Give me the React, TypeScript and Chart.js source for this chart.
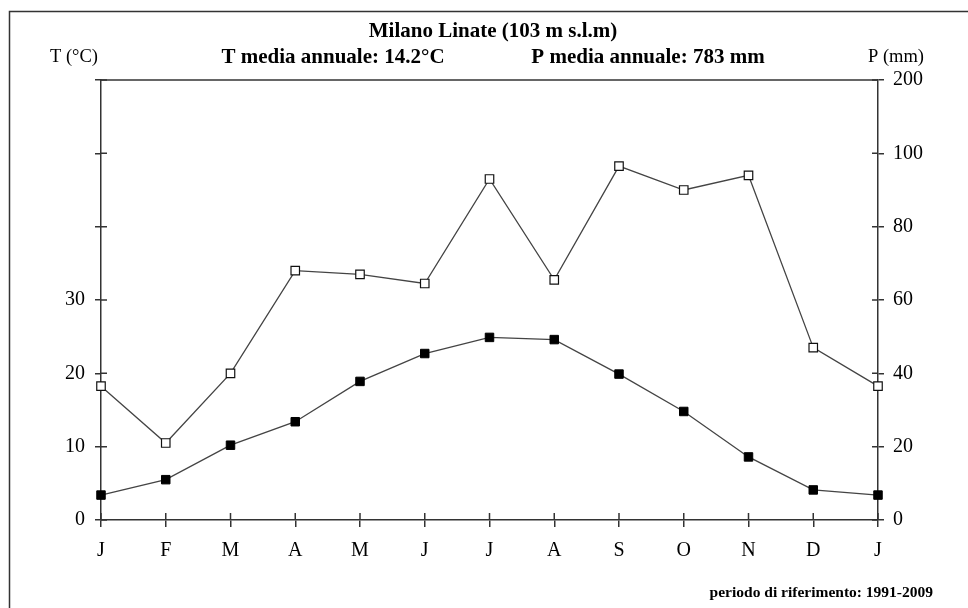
import React, { useEffect, useRef } from "react";
import { Chart, registerables } from "chart.js";

Chart.register(...registerables);

const months = ["J", "F", "M", "A", "M", "J", "J", "A", "S", "O", "N", "D", "J"];
const temperature = [3.4, 5.5, 10.2, 13.4, 18.9, 22.7, 24.9, 24.6, 19.9, 14.8, 8.6, 4.1, 3.4];
const precipitation = [36.5, 21, 40, 68, 67, 64.5, 93, 65.5, 96.5, 90, 94, 47, 36.5];
const tempLabelledTicks = [0, 10, 20, 30];
const precipTopInternal = 120;
const precipTopLabel = "200";

const title = "Milano Linate (103 m s.l.m)";
const tMean = "T media annuale: 14.2°C";
const pMean = "P media annuale: 783 mm";
const tUnit = "T (°C)";
const pUnit = "P (mm)";
const period = "periodo di riferimento: 1991-2009";

const FONT = "'Liberation Serif', 'Times New Roman', serif";
const AXIS = "#333";

const decorPlugin = {
  id: "decor",
  afterDraw(chart: any) {
    const ctx = chart.ctx as CanvasRenderingContext2D;
    const area = chart.chartArea;
    const sx = chart.scales.x;
    const sT = chart.scales.yT;
    const sP = chart.scales.yP;
    ctx.save();
    ctx.strokeStyle = AXIS;
    ctx.lineWidth = 1.5;
    // outer frame
    ctx.beginPath();
    ctx.rect(9.5, 11.5, 1000, 700);
    ctx.stroke();
    // top border of plot
    ctx.beginPath();
    ctx.moveTo(area.left, area.top);
    ctx.lineTo(area.right, area.top);
    ctx.stroke();
    // inner halves of ticks
    ctx.beginPath();
    sT.ticks.forEach((t: any) => {
      const y = sT.getPixelForValue(t.value);
      ctx.moveTo(area.left, y);
      ctx.lineTo(area.left + 6, y);
    });
    sP.ticks.forEach((t: any) => {
      const y = sP.getPixelForValue(t.value);
      ctx.moveTo(area.right, y);
      ctx.lineTo(area.right - 6, y);
    });
    months.forEach((_, i) => {
      const x = sx.getPixelForValue(i);
      ctx.moveTo(x, area.bottom);
      ctx.lineTo(x, area.bottom - 7);
    });
    ctx.stroke();

    // texts
    ctx.fillStyle = "#000";
    ctx.textBaseline = "middle";
    ctx.textAlign = "center";
    ctx.font = `bold 21px ${FONT}`;
    ctx.fillText(title, 493, 32);
    ctx.fillText(tMean, 333, 58);
    ctx.fillText(pMean, 648, 58);
    ctx.font = `18.5px ${FONT}`;
    ctx.fillText(tUnit, 74, 57);
    ctx.fillText(pUnit, 896, 57);
    ctx.font = `bold 15.5px ${FONT}`;
    ctx.textAlign = "right";
    ctx.fillText(period, 933, 593);
    ctx.restore();
  },
};

export default function App() {
  const ref = useRef<HTMLCanvasElement | null>(null);
  useEffect(() => {
    if (!ref.current) return;
    const chart = new Chart(ref.current, {
      type: "line",
      data: {
        labels: months,
        datasets: [
          {
            label: "P",
            data: precipitation,
            yAxisID: "yP",
            borderColor: "#444",
            borderWidth: 1.3,
            pointStyle: "rect",
            pointRadius: 6,
            pointBackgroundColor: "#fff",
            pointBorderColor: "#111",
            pointBorderWidth: 1.2,
            tension: 0,
            order: 2,
          },
          {
            label: "T",
            data: temperature,
            yAxisID: "yT",
            borderColor: "#444",
            borderWidth: 1.3,
            pointStyle: "rect",
            pointRadius: 6,
            pointBackgroundColor: "#000",
            pointBorderColor: "#000",
            pointBorderWidth: 1,
            tension: 0,
            order: 1,
          },
        ],
      },
      options: {
        responsive: false,
        animation: false,
        layout: { padding: { top: 80, left: 0, right: 0, bottom: 0 } },
        plugins: {
          legend: { display: false },
          tooltip: { enabled: false },
          title: { display: false },
        },
        scales: {
          x: {
            type: "category",
            offset: false,
            grid: { display: true, drawOnChartArea: false, drawTicks: true, tickLength: 7, color: AXIS, lineWidth: 1.5 },
            border: { display: true, color: AXIS, width: 1.5 },
            ticks: { color: "#000", font: { family: FONT, size: 20 }, padding: 12, autoSkip: false, maxRotation: 0 },
            afterFit: (s: any) => { s.height = 88; },
          },
          yT: {
            type: "linear",
            position: "left",
            min: 0,
            max: 60,
            grid: { display: true, drawOnChartArea: false, drawTicks: true, tickLength: 6, color: AXIS, lineWidth: 1.5 },
            border: { display: true, color: AXIS, width: 1.5 },
            ticks: {
              stepSize: 10,
              color: "#000",
              font: { family: FONT, size: 20 },
              padding: 10,
              callback: (v: any) => (tempLabelledTicks.includes(Number(v)) ? String(v) : ""),
            },
            afterFit: (s: any) => { s.width = 101; },
          },
          yP: {
            type: "linear",
            position: "right",
            min: 0,
            max: precipTopInternal,
            grid: { display: true, drawOnChartArea: false, drawTicks: true, tickLength: 6, color: AXIS, lineWidth: 1.5 },
            border: { display: true, color: AXIS, width: 1.5 },
            ticks: {
              stepSize: 20,
              color: "#000",
              font: { family: FONT, size: 20 },
              padding: 9,
              callback: (v: any) => (Number(v) === precipTopInternal ? precipTopLabel : String(v)),
            },
            afterFit: (s: any) => { s.width = 90; },
          },
        },
      },
      plugins: [decorPlugin],
    } as any);
    return () => chart.destroy();
  }, []);
  return (
    <div style={{ position: "fixed", left: 0, top: 0, width: 968, height: 608, background: "#fff" }}>
      <canvas ref={ref} width={968} height={608} />
    </div>
  );
}
